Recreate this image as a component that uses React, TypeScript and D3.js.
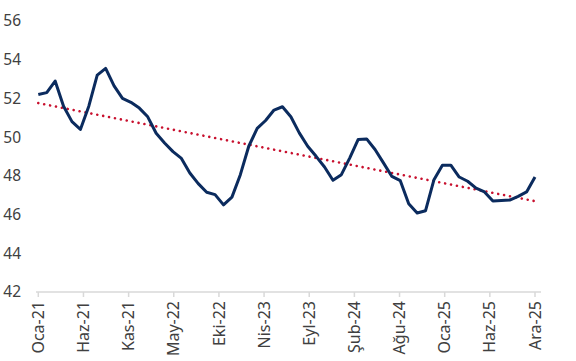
import React from "react";
import * as d3 from "d3";

const values: number[] = [
  52.2, 52.3, 52.9, 51.6, 50.8, 50.4, 51.6, 53.2, 53.55, 52.65,
  52.0, 51.8, 51.5, 51.05, 50.2, 49.7, 49.25, 48.9, 48.15, 47.6,
  47.15, 47.03, 46.5, 46.9, 48.06, 49.53, 50.45, 50.86, 51.4, 51.57,
  51.05, 50.22, 49.53, 49.01, 48.46, 47.77, 48.06, 48.93, 49.88, 49.91,
  49.36, 48.67, 47.97, 47.75, 46.56, 46.08, 46.2, 47.8, 48.55, 48.55,
  47.94, 47.72, 47.37, 47.17, 46.7, 46.73, 46.75, 46.94, 47.17, 47.94,
];

const tickLabels: string[] = [
  "Oca-21", "Haz-21", "Kas-21", "May-22", "Eki-22", "Nis-23",
  "Eyl-23", "Şub-24", "Ağu-24", "Oca-25", "Haz-25", "Ara-25",
];

const yTicks: number[] = [42, 44, 46, 48, 50, 52, 54, 56];

const W = 576;
const H = 361;
const X0 = 38.3;
const X1 = 535;
const Y_TOP = 21;
const Y_BOT = 292;
const FONT = "'Noto Sans', 'Open Sans', sans-serif";

export default function App() {
  const n = values.length;
  const x = d3.scaleLinear().domain([0, n - 1]).range([X0, X1]);
  const y = d3.scaleLinear().domain([42, 56]).range([Y_BOT, Y_TOP]);

  const line = d3
    .line<number>()
    .x((_, i) => x(i))
    .y((d) => y(d));

  // least-squares trend line
  const idx = values.map((_, i) => i);
  const mx = d3.mean(idx) as number;
  const my = d3.mean(values) as number;
  let sxy = 0;
  let sxx = 0;
  values.forEach((v, i) => {
    sxy += (i - mx) * (v - my);
    sxx += (i - mx) * (i - mx);
  });
  const slope = sxy / sxx;
  const icpt = my - slope * mx;
  const trend = [0, n - 1].map((i) => ({ i, v: icpt + slope * i }));
  const trendLine = d3
    .line<{ i: number; v: number }>()
    .x((d) => x(d.i))
    .y((d) => y(d.v));

  const tickStep = (n - 1) / (tickLabels.length - 1);

  return (
    <svg
      width={W}
      height={H}
      style={{ position: "absolute", left: 0, top: 0, background: "#fff" }}
      fontFamily={FONT}
    >
      {yTicks.map((t) => (
        <text
          key={t}
          x={21}
          y={y(t)}
          dy="0.35em"
          textAnchor="end"
          fontSize={15.5}
          fill="#404040"
        >
          {t}
        </text>
      ))}

      <line x1={36} x2={541} y1={Y_BOT} y2={Y_BOT} stroke="#D9D9D9" strokeWidth={1.5} />
      {tickLabels.map((lab, k) => {
        const tx = x(k * tickStep);
        return (
          <g key={lab}>
            <line x1={tx} x2={tx} y1={Y_BOT} y2={Y_BOT + 5} stroke="#D9D9D9" strokeWidth={1.5} />
            <text
              transform={`translate(${tx},301) rotate(-90)`}
              textAnchor="end"
              dy="0.35em"
              fontSize={16}
              fill="#404040"
            >
              {lab}
            </text>
          </g>
        );
      })}

      <path
        d={trendLine(trend) as string}
        fill="none"
        stroke="#C8102E"
        strokeWidth={2.6}
        strokeDasharray="0.01 6"
        strokeLinecap="round"
      />

      <path
        d={line(values) as string}
        fill="none"
        stroke="#0B2B5E"
        strokeWidth={3}
        strokeLinejoin="round"
      />
    </svg>
  );
}
